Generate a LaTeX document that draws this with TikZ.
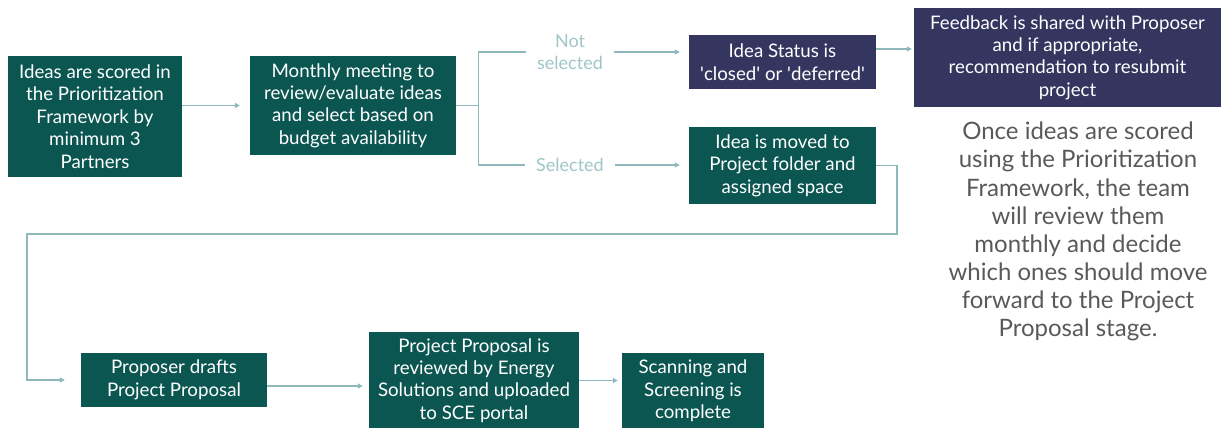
\documentclass[tikz,border=0pt]{standalone}
\usepackage{fontspec}
\setmainfont{Lato}
\usetikzlibrary{arrows.meta, positioning, calc}
\definecolor{deepteal}{RGB}{11,86,81}
\definecolor{slate}{RGB}{53,54,96}
\definecolor{paleline}{RGB}{141,185,188}
\definecolor{palelabel}{RGB}{160,197,199}
\definecolor{notegray}{RGB}{89,89,89}

\begin{document}
\begin{tikzpicture}[x=1pt, y=-1pt,
    stepbox/.style={fill=deepteal, text=white, align=center, inner sep=0pt,
      font=\fontsize{18.7}{22.4}\selectfont},
    statusbox/.style={stepbox, fill=slate},
    branch/.style={draw=paleline, line width=1.2pt},
    flow/.style={branch, -{Triangle[length=5pt, width=5pt]}},
    choice/.style={text=palelabel, align=center, inner xsep=11pt, inner ysep=0pt,
      font=\fontsize{18}{22}\selectfont}]
  \useasboundingbox (0,0) rectangle (1224,428);

  % first row: scoring and monthly review
  \node[stepbox, minimum width=174pt, minimum height=121pt] (score) at (95,116.5)
    {Ideas are scored in\\the Prioritization\\Framework by\\minimum 3\\Partners};
  \node[stepbox, minimum width=206pt, minimum height=99pt] (meet) at (353,105.5)
    {Monthly meeting to\\review/evaluate ideas\\and select based on\\budget availability};

  % the two outcomes
  \node[choice] (notsel) at (570,52) {Not\\selected};
  \node[choice] (sel) at (570,165) {Selected};

  \node[statusbox, minimum width=187pt, minimum height=54pt] (status) at (782.5,62)
    {Idea Status is\\\textquotesingle closed\textquotesingle{} or \textquotesingle deferred\textquotesingle};
  \node[statusbox, minimum width=307pt, minimum height=99pt] (feedback) at (1067.5,57.5)
    {Feedback is shared with Proposer\\and if appropriate,\\recommendation to resubmit\\project};
  \node[stepbox, minimum width=187pt, minimum height=77pt] (moved) at (782.5,165.5)
    {Idea is moved to\\Project folder and\\assigned space};

  % side note
  \node[text=notegray, align=center, font=\fontsize{24}{28.1}\selectfont] (note) at (1078,231.5)
    {Once ideas are scored\\using the Prioritization\\Framework, the team\\will review them\\monthly and decide\\which ones should move\\forward to the Project\\Proposal stage.};

  % second row: proposal
  \node[stepbox, minimum width=186pt, minimum height=54pt] (draft) at (174,380)
    {Proposer drafts\\Project Proposal};
  \node[stepbox, minimum width=210pt, minimum height=97pt] (review) at (474,380.5)
    {Project Proposal is\\reviewed by Energy\\Solutions and uploaded\\to SCE portal};
  \node[stepbox, minimum width=142pt, minimum height=77pt] (done) at (693,391)
    {Scanning and\\Screening is\\complete};

  \coordinate (loopR) at (897,234);
  \coordinate (loopL) at (27,234);

  % connectors
  \draw[flow, shorten >=10pt] (score.east |- meet.west) -- (meet.west);
  \draw[branch] (meet.east) -- ++(22,0) |- (notsel.west);
  \draw[branch] (meet.east) ++(22,0) |- (sel.west);
  \draw[flow, shorten >=9pt] (notsel.east) -- (notsel.east -| status.west);
  \draw[flow, shorten >=9pt] (sel.east) -- (sel.east -| moved.west);
  \draw[flow, shorten >=2pt] ([yshift=13pt]status.east) -- ([yshift=13pt]status.east -| feedback.west);
  \draw[flow, shorten >=16pt] (moved.east) -| (loopR) -- (loopL) |- (draft.west);
  \draw[flow, shorten >=6pt] ([yshift=-6pt]draft.east) -- ([yshift=-6pt]draft.east -| review.west);
  \draw[flow, shorten >=4pt] (review.east) -- (review.east -| done.west);
\end{tikzpicture}
\end{document}
